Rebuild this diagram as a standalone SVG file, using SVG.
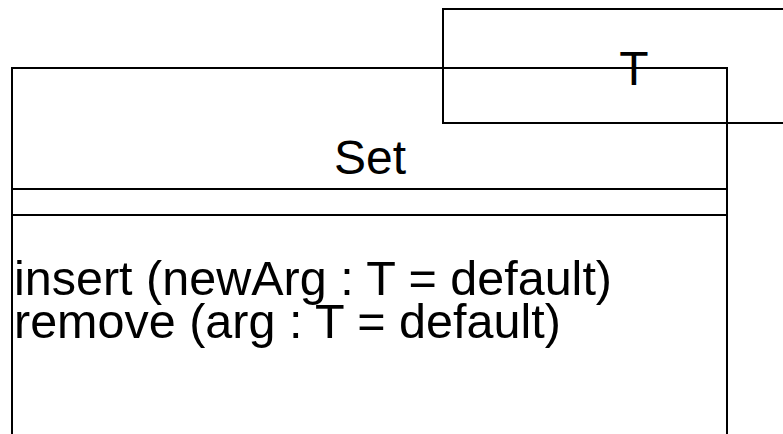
<svg xmlns="http://www.w3.org/2000/svg" width="783" height="434" viewBox="0 0 783 434">
  <style>
    .box { fill: none; stroke: #000; stroke-width: 2; }
    .sep { stroke: #000; stroke-width: 2; }
    .lbl { font-family: "Liberation Sans", Arial, sans-serif; font-size: 48px; fill: #000; }
    .op { font-size: 48.5px; }
  </style>
  <rect x="0" y="0" width="783" height="434" fill="#fff"/>
  <!-- template parameter box -->
  <g id="param-T">
    <rect class="box" x="443" y="9" width="400" height="114"/>
    <text class="lbl" x="634" y="85" text-anchor="middle">T</text>
  </g>
  <!-- class Set -->
  <g id="class-Set">
    <rect class="box" x="12" y="68" width="715" height="400"/>
    <text class="lbl" x="370" y="174" text-anchor="middle">Set</text>
    <line class="sep" x1="12" y1="189" x2="727" y2="189"/>
    <line class="sep" x1="12" y1="215" x2="727" y2="215"/>
    <text class="lbl op" x="14" y="295">insert (newArg : T = default)</text>
    <text class="lbl op" x="14" y="338">remove (arg : T = default)</text>
  </g>
  <g id="connectors"></g>
</svg>
